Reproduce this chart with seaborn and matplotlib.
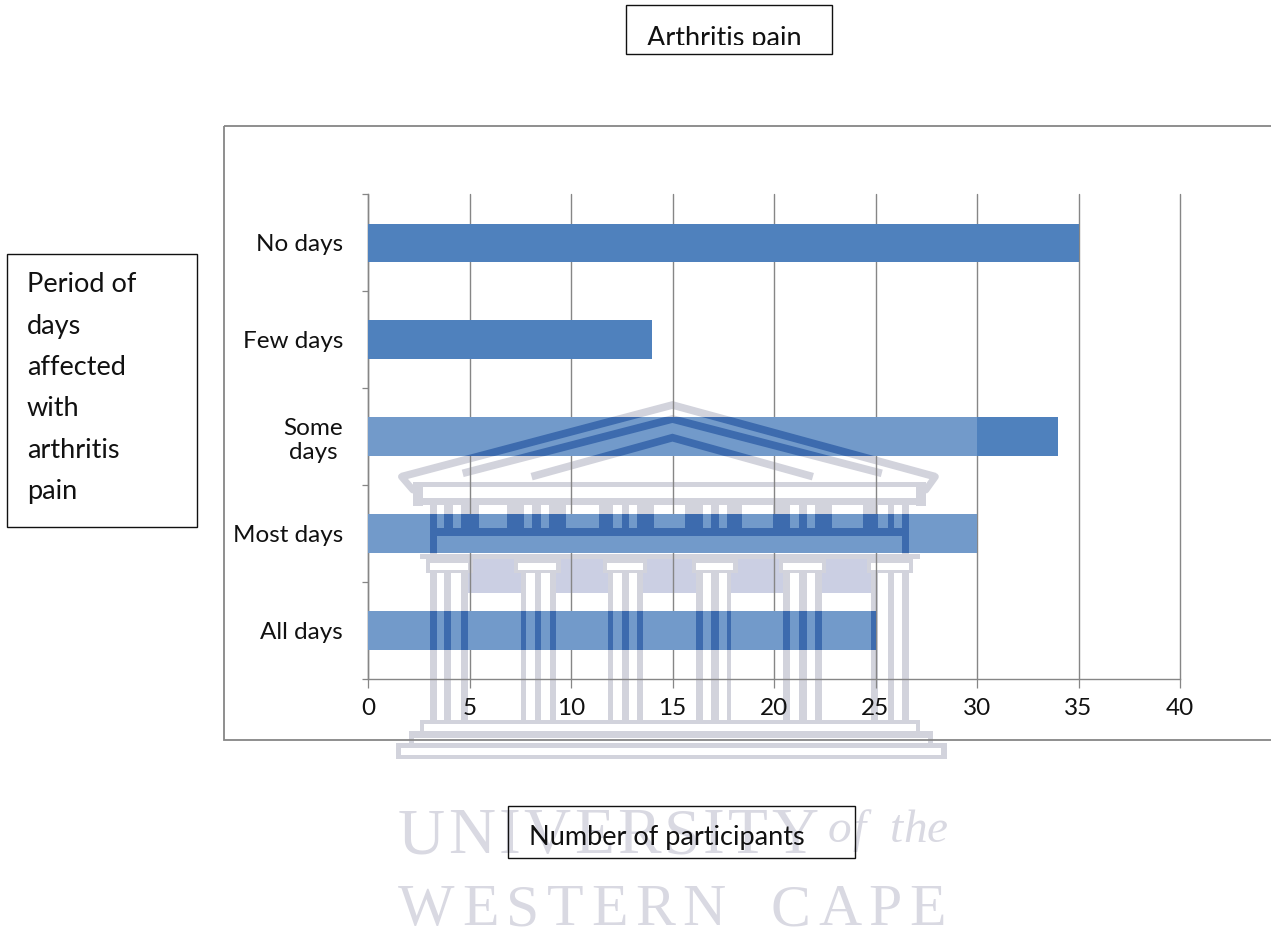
import numpy as np
import pandas as pd
import seaborn as sns
import matplotlib
matplotlib.use("Agg")
import matplotlib.pyplot as plt
from matplotlib.patches import Rectangle
from matplotlib.lines import Line2D

# ---- data ----
categories = ["No days", "Few days", "Some days", "Most days", "All days"]
tick_labels = ["No days", "Few days", "Some\ndays", "Most days", "All days"]
participants = [35, 14, 34, 30, 25]
x_ticks = [0, 5, 10, 15, 20, 25, 30, 35, 40]
title_text = "Arthritis pain"
x_title_text = "Number of participants"
y_title_lines = ["Period of", "days", "affected", "with", "arthritis", "pain"]
watermark_lines = ["UNIVERSITY", "of the", "WESTERN CAPE"]

W, H = 1271, 930
BAR = "#4F81BD"
GRID = "#868686"
WM = "#D2D3DC"
WM_TEXT = "#D9D9E2"
WM_FILL = "#CBCFE3"
WM_DARK = "#3D6BAE"
FONT = "Lato"

sns.set_theme(style="white")
plt.rcParams["font.family"] = [FONT, "DejaVu Sans"]
fig = plt.figure(figsize=(W / 100, H / 100), dpi=100, facecolor="white")


def pix_axes(z):
    a = fig.add_axes([0, 0, 1, 1], zorder=z)
    a.set_xlim(0, W)
    a.set_ylim(H, 0)
    a.axis("off")
    a.patch.set_alpha(0)
    return a


bg = pix_axes(0)

# main chart
L, R, T, B = 368, 1180, 194.5, 679
ax = fig.add_axes([L / W, 1 - B / H, (R - L) / W, (B - T) / H], zorder=1)
ax.patch.set_alpha(0)
df = pd.DataFrame({"days": categories, "n": participants})
sns.barplot(data=df, y="days", x="n", order=categories, color=BAR, saturation=1,
            width=0.40, ax=ax, zorder=3, errorbar=None, linewidth=0, edgecolor="none")
bars = list(ax.patches)
ax.set_xlim(0, 40)
ax.set_ylim(4.5, -0.5)
ax.set_xlabel("")
ax.set_ylabel("")
ax.set_xticks(x_ticks)
ax.set_yticks(range(5))
ax.set_yticklabels(tick_labels, multialignment="center")
ax.set_yticks(np.arange(-0.5, 5), minor=True)
ax.tick_params(axis="y", which="major", length=0, pad=18, labelsize=17.5, labelcolor="#111111")
ax.tick_params(axis="y", which="minor", length=4, width=0.9, color=GRID, left=True)
ax.tick_params(axis="x", which="major", length=6.5, width=0.9, color=GRID, bottom=True,
               pad=7, labelsize=17.5, labelcolor="#111111")
ax.grid(axis="x", color=GRID, lw=1.0, zorder=1)
for gl in ax.get_xgridlines():
    gl.set_clip_on(False)
ax.set_axisbelow(True)
for s in ["top", "right"]:
    ax.spines[s].set_visible(False)
for s in ["left", "bottom"]:
    ax.spines[s].set_color(GRID)
    ax.spines[s].set_linewidth(1.0)

# the watermark fades the three lower bars, up to its right edge at 30
ax.barh(range(2, 5), np.minimum(participants[2:], 30), height=0.40, color="white",
        alpha=0.2, zorder=3.5, linewidth=0)

top = pix_axes(2)


# ---- watermark building, in zoom coordinates of the source ----
def X(z):
    return 390 + z / 2.613


def Y(z):
    return 395 + z / 3


def building_rects():
    r = []
    openings = [(122, 142), (165, 185), (232, 305), (350, 372), (395, 415), (460, 545),
                (582, 605), (625, 645), (690, 772), (818, 838), (860, 880), (920, 1000),
                (1045, 1070), (1090, 1110), (1155, 1235), (1275, 1300), (1318, 1338)]
    x = 105
    for a, b in openings:
        r.append((x, a, 330, 400))
        x = b
    r.append((x, 1355, 330, 400))
    r += [(105, 1355, 318, 330), (105, 1355, 400, 422), (105, 122, 422, 478), (1338, 1355, 422, 478)]
    cols = [(105, 122), (140, 160), (185, 205), (343, 355), (378, 395), (418, 435),
            (570, 582), (605, 625), (645, 660), (800, 818), (838, 860), (880, 892),
            (1028, 1045), (1068, 1090), (1110, 1130), (1258, 1275), (1300, 1318), (1338, 1355)]
    r += [(a, b, 530, 978) for a, b in cols]
    return r


def add_rect(a, z, color, clip=None):
    x0, x1, y0, y1 = z
    p = Rectangle((X(x0), Y(y0)), X(x1) - X(x0), Y(y1) - Y(y0), fc=color, ec="none")
    a.add_patch(p)
    if clip is not None:
        p.set_clip_path(clip)
    return p


def roof_lines(a, color, clip=None):
    ch = [((30, 245), (738, 30), (1425, 245)),
          ((190, 235), (738, 72), (1285, 235)),
          ((370, 245), (738, 128), (1105, 245))]
    for c in ch:
        ln = Line2D([X(p[0]) for p in c], [Y(p[1]) for p in c], color=color, lw=5.5,
                    solid_joinstyle="miter", solid_capstyle="butt")
        a.add_line(ln)
        if clip is not None:
            ln.set_clip_path(clip)


# pale layer under the chart
for z in [(205, 1258, 492, 595)]:
    add_rect(bg, z, WM_FILL)
for z in [(435, 343, 0, 0)]:
    pass
roof_lines(bg, WM)
for z in building_rects():
    add_rect(bg, z, WM)
# white gaps between column flutes over the filled frieze band
for z in [(343, 435, 535, 595), (570, 660, 535, 595), (800, 892, 535, 595), (1028, 1130, 535, 595)]:
    add_rect(bg, z, "white")
for z in [(343, 355, 530, 600), (378, 395, 530, 600), (418, 435, 530, 600),
          (570, 582, 530, 600), (605, 625, 530, 600), (645, 660, 530, 600),
          (800, 818, 530, 600), (838, 860, 530, 600), (880, 892, 530, 600),
          (1028, 1045, 530, 600), (1068, 1090, 530, 600), (1110, 1130, 530, 600)]:
    add_rect(bg, z, WM)
# capitals
for x0, x1 in [(105, 205), (335, 435), (568, 660), (800, 897), (1028, 1128), (1258, 1355)]:
    add_rect(bg, (x0 - 12, x1 + 12, 492, 535), WM)
    add_rect(bg, (x0, x1, 503, 525), "white")
for z in [(60, 1400, 262, 276), (60, 85, 276, 332), (1375, 1400, 276, 332), (60, 1400, 310, 330),
          (78, 1385, 478, 492), (78, 1385, 975, 988), (78, 90, 988, 1010), (1375, 1385, 988, 1010),
          (50, 1420, 1008, 1030), (50, 62, 1030, 1045), (1405, 1420, 1030, 1045),
          (15, 1455, 1045, 1058), (15, 30, 1058, 1090), (1440, 1455, 1058, 1090),
          (15, 1455, 1080, 1092)]:
    add_rect(bg, z, WM)
for c in [((30, 245), (60, 285)), ((1425, 245), (1400, 285))]:
    bg.add_line(Line2D([X(p[0]) for p in c], [Y(p[1]) for p in c], color=WM, lw=5,
                       solid_capstyle="round"))

# dark layer where the building crosses the faded bars
for bar in bars[2:]:
    roof_lines(top, WM_DARK, bar)
    for z in building_rects():
        add_rect(top, z, WM_DARK, bar)

# ---- watermark lettering ----
renderer = fig.canvas.get_renderer()


def spaced(text, x0, x1, base, size, **kw):
    ws = []
    for ch in text:
        t = bg.text(0, 0, ch if ch != " " else "n", fontsize=size, **kw)
        ws.append(t.get_window_extent(renderer).width)
        t.remove()
    gap = (x1 - x0 - sum(ws)) / (len(text) - 1)
    x = x0
    for ch, w in zip(text, ws):
        if ch != " ":
            bg.text(x, base, ch, fontsize=size, ha="left", va="baseline", color=WM_TEXT, **kw)
        x += w + gap


serif = dict(family="Liberation Serif")
spaced(watermark_lines[0], 398, 818, 853, 47, **serif)
spaced(watermark_lines[1], 828, 948, 842, 34, style="italic", **serif)
spaced(watermark_lines[2], 398, 946, 925, 43, **serif)

# ---- boxes and text ----
top.add_patch(Rectangle((224, 126), 1100, 614, fc="none", ec=GRID, lw=1.3))
for (x0, y0, x1, y1) in [(626, 5, 832, 54), (7, 254, 197, 527), (508, 806, 855, 858)]:
    top.add_patch(Rectangle((x0, y0), x1 - x0, y1 - y0, fc="none", ec="#111111", lw=1.0))

FS = 19.5
t = top.text(647, 46, title_text, fontsize=FS, ha="left", va="baseline", color="#111111")
t.set_clip_on(True)
t.set_clip_path(Rectangle((626, 5), 206, 40, transform=top.transData))
top.text(529, 845, x_title_text, fontsize=FS, ha="left", va="baseline", color="#111111")
for line, yc in zip(y_title_lines, [292, 334, 375, 416, 458, 499]):
    top.text(27, yc, line, fontsize=FS, ha="left", va="baseline", color="#111111")

fig.savefig("out.png", dpi=100, facecolor="white")
